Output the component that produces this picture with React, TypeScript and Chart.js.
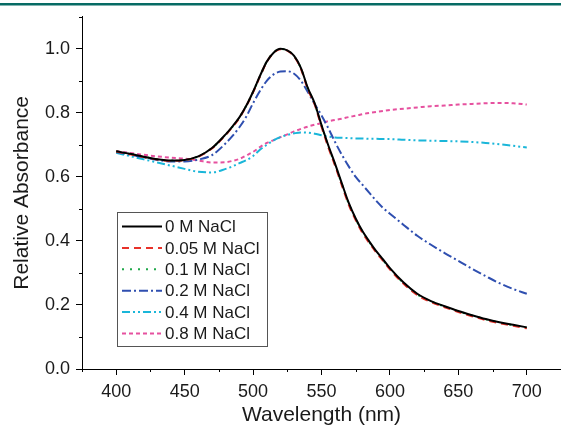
import React, { useEffect, useRef } from "react";
import { Chart, registerables } from "chart.js";
Chart.register(...registerables);

const wavelengths = [400, 410, 420, 430, 440, 450, 460, 470, 480, 485, 490, 495, 500, 505, 510, 515, 520, 525, 530, 535, 540, 545, 550, 555, 560, 565, 570, 575, 580, 585, 590, 595, 600, 610, 620, 630, 640, 650, 660, 670, 680, 690, 700];

const nacl0 = [0.680, 0.672, 0.663, 0.655, 0.651, 0.653, 0.664, 0.690, 0.733, 0.758, 0.786, 0.822, 0.866, 0.915, 0.960, 0.988, 1.000, 0.995, 0.978, 0.940, 0.878, 0.830, 0.762, 0.698, 0.640, 0.578, 0.518, 0.470, 0.430, 0.398, 0.368, 0.342, 0.315, 0.270, 0.235, 0.212, 0.196, 0.181, 0.168, 0.156, 0.146, 0.138, 0.130];
const nacl005 = [0.679, 0.671, 0.662, 0.654, 0.650, 0.652, 0.663, 0.689, 0.731, 0.756, 0.784, 0.821, 0.864, 0.913, 0.959, 0.987, 0.999, 0.994, 0.976, 0.937, 0.874, 0.826, 0.757, 0.692, 0.634, 0.572, 0.512, 0.465, 0.425, 0.393, 0.364, 0.338, 0.311, 0.266, 0.231, 0.209, 0.193, 0.178, 0.165, 0.153, 0.143, 0.135, 0.127];
const nacl01 = [0.680, 0.672, 0.663, 0.655, 0.651, 0.653, 0.664, 0.690, 0.732, 0.757, 0.785, 0.822, 0.865, 0.914, 0.960, 0.988, 1.000, 0.995, 0.977, 0.939, 0.876, 0.828, 0.760, 0.695, 0.637, 0.575, 0.515, 0.468, 0.428, 0.396, 0.366, 0.340, 0.313, 0.268, 0.233, 0.211, 0.195, 0.180, 0.167, 0.155, 0.145, 0.137, 0.129];
const nacl02 = [0.678, 0.670, 0.661, 0.653, 0.648, 0.648, 0.654, 0.668, 0.705, 0.728, 0.755, 0.788, 0.830, 0.868, 0.900, 0.920, 0.929, 0.930, 0.922, 0.900, 0.865, 0.828, 0.792, 0.752, 0.708, 0.668, 0.632, 0.600, 0.575, 0.550, 0.525, 0.503, 0.485, 0.450, 0.416, 0.388, 0.362, 0.338, 0.313, 0.290, 0.268, 0.250, 0.235];
const nacl04 = [0.675, 0.665, 0.655, 0.645, 0.635, 0.625, 0.616, 0.614, 0.625, 0.633, 0.643, 0.652, 0.665, 0.685, 0.700, 0.714, 0.724, 0.731, 0.736, 0.739, 0.738, 0.735, 0.730, 0.726, 0.723, 0.722, 0.721, 0.720, 0.720, 0.719, 0.719, 0.718, 0.718, 0.716, 0.714, 0.713, 0.712, 0.711, 0.709, 0.706, 0.702, 0.697, 0.692];
const nacl08 = [0.680, 0.675, 0.669, 0.664, 0.660, 0.657, 0.651, 0.645, 0.646, 0.650, 0.656, 0.667, 0.678, 0.693, 0.706, 0.715, 0.724, 0.733, 0.742, 0.750, 0.757, 0.763, 0.768, 0.774, 0.778, 0.782, 0.787, 0.791, 0.796, 0.800, 0.803, 0.806, 0.809, 0.813, 0.817, 0.821, 0.823, 0.826, 0.828, 0.830, 0.831, 0.830, 0.826];

const seriesLabels = ["0 M NaCl", "0.05 M NaCl", "0.1 M NaCl", "0.2 M NaCl", "0.4 M NaCl", "0.8 M NaCl"];
const seriesValues = [nacl0, nacl005, nacl01, nacl02, nacl04, nacl08];
const seriesColors = ["#000000", "#e8322a", "#1fa84a", "#2f4fb0", "#1ab6d9", "#e6519f"];
const seriesDashes = [[], [7, 5], [2, 6], [9, 3, 2, 3], [8, 3, 2, 3, 2, 3], [4, 3]];

const xMajorTicks = [400, 450, 500, 550, 600, 650, 700];
const xMinorTicks = [375, 425, 475, 525, 575, 625, 675, 725];
const yMajorTicks = [0, 0.2, 0.4, 0.6, 0.8, 1.0];
const yMinorTicks = [0.1, 0.3, 0.5, 0.7, 0.9, 1.1];

const FONT = "'Liberation Sans', Arial, sans-serif";

export default function App() {
  const ref = useRef<HTMLCanvasElement | null>(null);
  useEffect(() => {
    if (!ref.current) return;
    const decor = {
      id: "decor",
      beforeDraw(chart: any) {
        const ctx = chart.ctx;
        ctx.save();
        ctx.fillStyle = "#ffffff";
        ctx.fillRect(0, 0, chart.width, chart.height);
        ctx.fillStyle = "#066b64";
        ctx.fillRect(0, 3, chart.width, 2.5);
        ctx.restore();
      },
      afterDraw(chart: any) {
        const ctx = chart.ctx;
        const xs = chart.scales.x;
        const ys = chart.scales.y;
        const area = chart.chartArea;
        ctx.save();
        ctx.strokeStyle = "#000";
        ctx.lineWidth = 1;
        ctx.beginPath();
        for (const v of yMinorTicks) {
          const py = Math.round(ys.getPixelForValue(v)) + 0.5;
          ctx.moveTo(area.left - 3, py);
          ctx.lineTo(area.left, py);
        }
        for (const v of xMinorTicks) {
          const px = Math.round(xs.getPixelForValue(v)) + 0.5;
          ctx.moveTo(px, area.bottom);
          ctx.lineTo(px, area.bottom + 3);
        }
        ctx.stroke();

        // legend box
        const bx = 117, by = 212, bw = 150, bh = 134;
        ctx.fillStyle = "#ffffff";
        ctx.fillRect(bx, by, bw, bh);
        ctx.strokeStyle = "#555";
        ctx.lineWidth = 1;
        ctx.strokeRect(bx + 0.5, by + 0.5, bw, bh);
        ctx.font = `17px ${FONT}`;
        ctx.textBaseline = "middle";
        ctx.textAlign = "left";
        chart.data.datasets.forEach((ds: any, i: number) => {
          const cy = by + 14.5 + i * 21.4;
          ctx.strokeStyle = ds.borderColor;
          ctx.lineWidth = 2;
          ctx.setLineDash(ds.borderDash || []);
          ctx.beginPath();
          ctx.moveTo(bx + 5, cy);
          ctx.lineTo(bx + 45, cy);
          ctx.stroke();
          ctx.setLineDash([]);
          ctx.fillStyle = "#1a1a1a";
          ctx.fillText(ds.label, bx + 48, cy + 1);
        });
        ctx.restore();
      },
    };

    const chart = new Chart(ref.current, {
      type: "line",
      data: {
        datasets: seriesLabels.map((label, i) => ({
          label,
          data: wavelengths.map((w, j) => ({ x: w, y: seriesValues[i][j] })),
          borderColor: seriesColors[i],
          backgroundColor: seriesColors[i],
          borderDash: seriesDashes[i],
          borderWidth: 2,
          pointRadius: 0,
          tension: 0.4,
          cubicInterpolationMode: "monotone",
          fill: false,
        })),
      },
      options: {
        responsive: false,
        animation: false,
        layout: { padding: { top: 16, left: 0, right: 0, bottom: 0 } },
        plugins: { legend: { display: false }, tooltip: { enabled: false } },
        scales: {
          x: {
            type: "linear",
            min: 375,
            max: 725,
            afterBuildTicks: (scale: any) => {
              scale.ticks = xMajorTicks.map((v) => ({ value: v }));
            },
            afterFit: (scale: any) => {
              scale.height = 65;
            },
            grid: { drawOnChartArea: false, drawTicks: true, tickLength: 6, tickColor: "#000", color: "#000" },
            border: { display: true, color: "#000", width: 1 },
            ticks: {
              padding: 6,
              color: "#1a1a1a",
              font: { family: FONT, size: 18 },
              maxRotation: 0,
              autoSkip: false,
              callback: (v: any) => String(v),
            },
            title: {
              display: true,
              text: "Wavelength (nm)",
              color: "#1a1a1a",
              font: { family: FONT, size: 21, lineHeight: 1 },
              padding: { top: 0, bottom: 8 },
            },
          },
          y: {
            type: "linear",
            min: 0,
            max: 1.1,
            afterBuildTicks: (scale: any) => {
              scale.ticks = yMajorTicks.map((v) => ({ value: v }));
            },
            afterFit: (scale: any) => {
              scale.width = 82;
            },
            grid: { drawOnChartArea: false, drawTicks: true, tickLength: 6, tickColor: "#000", color: "#000" },
            border: { display: true, color: "#000", width: 1 },
            ticks: {
              padding: 6,
              color: "#1a1a1a",
              font: { family: FONT, size: 18 },
              autoSkip: false,
              callback: (v: any) => Number(v).toFixed(1),
            },
            title: {
              display: true,
              text: "Relative Absorbance",
              color: "#1a1a1a",
              font: { family: FONT, size: 21, lineHeight: 1 },
              padding: { top: 12, bottom: 0 },
            },
          },
        },
      },
      plugins: [decor],
    } as any);
    return () => chart.destroy();
  }, []);

  return (
    <div style={{ position: "absolute", left: 0, top: 0, width: 561, height: 434 }}>
      <canvas ref={ref} width={561} height={434} style={{ width: 561, height: 434, display: "block" }} />
    </div>
  );
}
